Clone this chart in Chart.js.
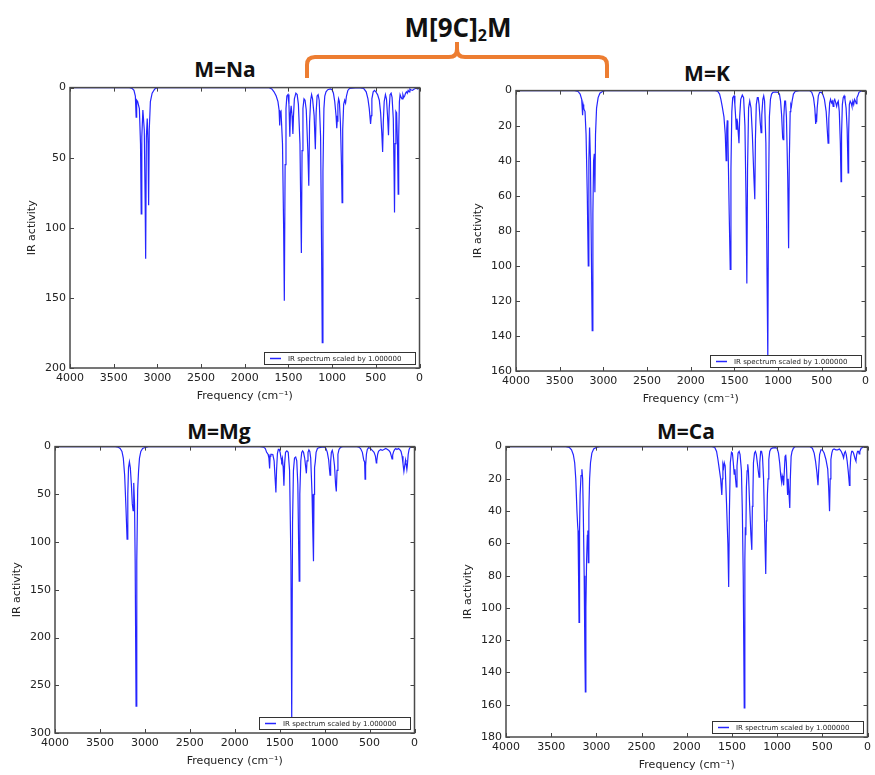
<!DOCTYPE html>
<html><head><meta charset="utf-8">
<script src="https://cdn.jsdelivr.net/npm/chart.js@4.4.1/dist/chart.umd.min.js"></script>
<style>
body{margin:0;background:#fff;width:875px;height:775px;position:relative;overflow:hidden;font-family:"Open Sans",sans-serif;}
.t{position:absolute;font-weight:700;font-size:21px;line-height:21px;color:#111;white-space:nowrap;transform:translateX(-50%);}
.main{position:absolute;font-weight:700;font-size:26px;line-height:26px;color:#111;white-space:nowrap;transform:translateX(-50%);}
.main sub{font-size:16px;vertical-align:-4px;line-height:0;}
canvas{position:absolute;}
svg{position:absolute;left:0;top:0;}
</style></head><body>
<svg width="875" height="100"><path d="M307 78 L307 65 Q307 57 315 57 L449 57 Q457 57 457 49 L457 42 M457 49 Q457 57 465 57 L599 57 Q607 57 607 65 L607 78" fill="none" stroke="#ED7D31" stroke-width="4"/></svg>
<div class="main" id="mainTitle" style="left:458px;top:14px;"></div>
<div class="t" id="t0" style="left:225px;top:59px;"></div>
<div class="t" id="t1" style="left:707px;top:63px;"></div>
<div class="t" id="t2" style="left:219px;top:421px;"></div>
<div class="t" id="t3" style="left:686px;top:421px;"></div>
<canvas id="c0" width="401" height="326" style="left:26px;top:77px;"></canvas>
<canvas id="c1" width="401" height="326" style="left:472px;top:80px;"></canvas>
<canvas id="c2" width="411" height="332" style="left:11px;top:436px;"></canvas>
<canvas id="c3" width="413" height="336" style="left:462px;top:436px;"></canvas>
<script>
// ---------------- data ----------------
const mainTitle = ['M[9C]', '2', 'M'];
const panelTitles = ['M=Na', 'M=K', 'M=Mg', 'M=Ca'];
const seriesLabel = 'IR spectrum scaled by 1.000000';
const xTitle = 'Frequency (cm\u207B\u00B9)';
const yTitle = 'IR activity';
const xTickValues = [4000, 3500, 3000, 2500, 2000, 1500, 1000, 500, 0];
const naYTicks = [0, 50, 100, 150, 200];
const kYTicks = [0, 20, 40, 60, 80, 100, 120, 140, 160];
const mgYTicks = [0, 50, 100, 150, 200, 250, 300];
const caYTicks = [0, 20, 40, 60, 80, 100, 120, 140, 160, 180];

// [frequency cm-1, IR activity]
const naSpectrum = [[4000,0],[3320,0],[3290,0.5],[3268,2],[3252,6],[3243,21],[3237,9],[3226,10],[3206,15],[3193,40],[3185,90],[3178,35],[3166,16],[3150,30],[3140,80],[3134,122],[3126,35],[3116,22],[3107,40],[3100,84],[3093,30],[3080,10],[3060,4],[3030,1],[3000,0],[1720,0],[1690,1],[1665,3],[1640,6],[1620,10],[1607,16],[1600,27],[1594,18],[1585,17],[1568,40],[1555,100],[1547,152],[1538,55],[1528,15],[1518,6],[1505,5],[1494,12],[1484,35],[1477,18],[1469,13],[1459,20],[1449,33],[1442,20],[1432,8],[1415,4],[1400,5],[1386,12],[1368,40],[1358,90],[1352,118],[1344,45],[1334,15],[1322,8],[1310,9],[1296,16],[1278,45],[1267,70],[1258,25],[1246,9],[1235,5],[1224,8],[1206,20],[1192,44],[1183,18],[1172,6],[1160,5],[1148,9],[1132,35],[1120,120],[1113,182],[1105,60],[1094,15],[1084,6],[1070,3],[1050,1.5],[1020,1],[1000,1.5],[985,4],[970,10],[955,20],[947,29],[942,24],[934,12],[926,8],[917,10],[905,25],[893,55],[886,82],[879,30],[868,12],[856,9],[846,11],[836,6],[820,2],[800,0.5],[700,0],[640,0.5],[610,3],[590,8],[575,15],[560,26],[552,20],[545,8],[530,3],[515,2],[500,3],[480,5],[460,9],[445,18],[432,32],[422,46],[414,24],[404,10],[390,5],[378,8],[366,20],[355,34],[347,15],[337,5],[325,4],[314,7],[300,22],[291,60],[286,89],[280,40],[270,17],[262,18],[252,40],[244,76],[238,35],[230,10],[222,5],[210,7],[200,8],[190,5],[180,7],[170,6],[160,4],[150,3],[140,4],[130,2],[120,3],[110,1],[100,1.5],[80,2],[60,1],[40,0.5],[20,1],[0,0]];

const kSpectrum = [[4000,0],[3330,0],[3290,0.5],[3266,2],[3248,5],[3238,14],[3232,8],[3225,10],[3218,11],[3210,12],[3198,25],[3184,60],[3173,100],[3166,40],[3158,21],[3148,40],[3136,100],[3128,137],[3120,70],[3112,40],[3104,36],[3097,58],[3090,25],[3078,10],[3060,4],[3040,1.5],[3010,0.5],[2980,0],[1720,0],[1690,0.5],[1670,2],[1655,5],[1640,9],[1620,15],[1605,25],[1595,40],[1588,22],[1582,17],[1575,25],[1560,70],[1548,102],[1540,45],[1530,12],[1520,4],[1505,3],[1495,8],[1485,16],[1479,22],[1472,16],[1465,18],[1455,25],[1448,30],[1440,15],[1428,5],[1410,2.5],[1395,4],[1380,20],[1368,60],[1358,110],[1350,45],[1338,10],[1325,6],[1310,10],[1295,25],[1277,50],[1267,62],[1260,28],[1250,8],[1238,4],[1228,4],[1218,8],[1205,18],[1195,24],[1187,14],[1175,5],[1165,3],[1155,6],[1140,30],[1126,110],[1118,153],[1110,60],[1100,15],[1088,5],[1075,2],[1060,1],[1030,0.8],[1000,1],[985,2],[972,6],[960,14],[948,27],[942,28],[935,15],[925,6],[915,6],[905,15],[890,50],[880,90],[872,40],[862,12],[855,8],[848,9],[840,6],[825,2],[805,0.5],[760,0],[640,0],[615,1],[595,4],[580,10],[570,19],[565,16],[560,18],[553,10],[540,3],[525,1],[505,1],[490,2],[470,5],[450,12],[438,22],[428,30],[420,16],[410,7],[400,5],[390,7],[380,6],[370,9],[362,6],[352,5],[340,7],[330,9],[322,7],[312,6],[300,12],[288,30],[280,52],[274,25],[265,8],[255,4],[245,3],[235,5],[222,10],[210,22],[199,47],[193,25],[185,8],[175,6],[165,7],[155,9],[145,6],[135,8],[125,5],[115,6],[105,7.5],[98,4],[88,3],[75,1],[60,0.5],[40,0],[0,0]];

const mgSpectrum = [[4000,0],[3330,0],[3300,0.5],[3275,2],[3255,5],[3240,12],[3225,30],[3210,65],[3198,97],[3190,50],[3182,22],[3172,16],[3162,22],[3150,40],[3140,60],[3131,67],[3126,40],[3122,38],[3115,60],[3108,120],[3098,272],[3090,120],[3080,45],[3070,25],[3060,12],[3045,5],[3025,2],[3000,1],[2960,0],[1720,0],[1680,0.5],[1660,2],[1645,6],[1630,8],[1620,12],[1612,23],[1606,10],[1598,8],[1585,8],[1575,9],[1562,15],[1550,35],[1542,48],[1535,25],[1525,7],[1515,3],[1505,3],[1495,6],[1485,12],[1478,15],[1470,12],[1462,20],[1453,41],[1445,18],[1435,6],[1420,4.5],[1405,6],[1390,25],[1375,120],[1366,288],[1357,80],[1347,25],[1335,12],[1322,11],[1310,15],[1298,40],[1288,110],[1283,141],[1276,50],[1265,15],[1255,6],[1245,4.5],[1235,6],[1222,12],[1210,22],[1203,28],[1196,15],[1185,6],[1175,3.5],[1165,5],[1155,12],[1140,50],[1130,95],[1124,120],[1118,50],[1112,22],[1104,16],[1095,6],[1080,2],[1060,1],[1030,0.5],[1000,0.5],[985,2],[970,6],[955,14],[945,25],[940,30],[933,16],[925,6],[915,4],[905,8],[890,20],[878,40],[870,47],[862,25],[852,8],[840,3],[825,1],[800,0],[640,0],[620,0.5],[600,2],[580,6],[565,14],[555,16],[550,34],[544,20],[535,8],[525,3],[510,1],[490,2],[470,4],[450,6],[435,10],[425,17],[420,15],[410,8],[400,5],[390,4],[375,3],[360,4],[340,3],[320,2],[300,3],[285,4],[270,6],[258,10],[250,13],[243,9],[232,5],[220,3],[208,2],[195,3],[180,2],[165,3],[150,5],[138,10],[128,18],[118,26],[112,22],[100,14],[95,17],[85,24],[80,20],[70,8],[60,3],[50,1],[35,0],[0,0]];

const caSpectrum = [[4000,0],[3340,0],[3300,0.5],[3275,2],[3255,5],[3240,10],[3228,20],[3215,40],[3207,49],[3203,52],[3197,80],[3192,109],[3186,52],[3180,30],[3170,18],[3160,14],[3152,20],[3145,40],[3135,80],[3127,130],[3122,152],[3116,100],[3108,70],[3100,55],[3094,52],[3089,72],[3083,40],[3075,20],[3065,10],[3050,4],[3030,1.5],[3000,0.5],[2960,0],[1720,0],[1690,0.5],[1670,3],[1655,8],[1640,14],[1625,20],[1612,30],[1606,20],[1600,11],[1592,13],[1585,10],[1575,12],[1560,35],[1545,60],[1536,87],[1528,40],[1518,10],[1505,3.5],[1495,4],[1485,10],[1475,17],[1467,14],[1460,20],[1452,25],[1444,12],[1432,4],[1420,3],[1410,5],[1395,15],[1385,40],[1375,80],[1364,162],[1357,70],[1352,50],[1346,55],[1340,25],[1332,15],[1325,11],[1318,15],[1305,35],[1290,55],[1280,64],[1274,37],[1268,30],[1262,10],[1250,4],[1240,3],[1230,5],[1215,12],[1200,19],[1192,10],[1182,3],[1172,3],[1162,6],[1150,20],[1140,45],[1126,79],[1118,46],[1113,44],[1108,30],[1100,20],[1092,8],[1082,3],[1070,1.5],[1050,0.8],[1020,0.6],[1000,1],[985,4],[972,10],[960,18],[950,22],[944,18],[935,20],[928,24],[920,15],[912,6],[905,5],[898,10],[890,22],[884,30],[878,20],[872,20],[865,33],[860,38],[854,20],[845,6],[835,3],[820,1],[800,0],[640,0],[610,1],[590,4],[575,9],[560,16],[548,24],[540,14],[530,5],[515,2],[500,2],[480,4],[460,8],[440,14],[430,25],[420,40],[413,20],[405,8],[395,4],[385,2],[370,1.5],[350,2],[330,2],[310,1.5],[290,3],[275,5],[265,7],[255,4],[245,3],[235,5],[225,9],[212,16],[200,24],[194,15],[185,6],[175,3],[165,3],[155,4],[145,6],[135,8],[128,9],[120,5],[110,3],[100,3],[92,4.5],[85,3],[70,1],[55,0.5],[40,0],[0,0]];

// ---------------- titles ----------------
document.getElementById('mainTitle').innerHTML = mainTitle[0] + '<sub>' + mainTitle[1] + '</sub>' + mainTitle[2];
panelTitles.forEach((t, i) => document.getElementById('t' + i).textContent = t);

// ---------------- chart setup ----------------
const LINE = '#2525ff';
const tickFont = { family: '"DejaVu Sans"', size: 11 };

const framePlugin = {
  id: 'mplFrame',
  afterDatasetsDraw(chart) {
    const { ctx, chartArea: a, scales: { x, y } } = chart;
    ctx.save();
    // inward ticks on all four sides
    ctx.strokeStyle = '#444';
    ctx.lineWidth = 1;
    ctx.beginPath();
    x.ticks.forEach(t => {
      const px = Math.round(x.getPixelForValue(t.value)) + 0.5;
      ctx.moveTo(px, a.bottom); ctx.lineTo(px, a.bottom - 4);
      ctx.moveTo(px, a.top); ctx.lineTo(px, a.top + 4);
    });
    y.ticks.forEach(t => {
      const py = Math.round(y.getPixelForValue(t.value)) + 0.5;
      ctx.moveTo(a.left, py); ctx.lineTo(a.left + 4, py);
      ctx.moveTo(a.right, py); ctx.lineTo(a.right - 4, py);
    });
    ctx.stroke();
    // legend box (bottom right, inside axes)
    const label = chart.data.datasets[0].label;
    const w = 151, h = 12;
    const lx = Math.round(a.right - 5 - w), ly = Math.round(a.bottom - 4 - h);
    ctx.fillStyle = '#fff';
    ctx.fillRect(lx, ly, w, h);
    ctx.strokeStyle = '#333';
    ctx.lineWidth = 1;
    ctx.strokeRect(lx + 0.5, ly + 0.5, w, h);
    ctx.strokeStyle = LINE;
    ctx.lineWidth = 1.5;
    ctx.beginPath();
    ctx.moveTo(lx + 6, ly + h / 2 + 0.5);
    ctx.lineTo(lx + 17, ly + h / 2 + 0.5);
    ctx.stroke();
    ctx.fillStyle = '#222';
    ctx.font = '7px "DejaVu Sans"';
    ctx.textBaseline = 'middle';
    ctx.fillText(label, lx + 24, ly + h / 2 + 1);
    // frame
    ctx.strokeStyle = '#4a4a4a';
    ctx.lineWidth = 1.5;
    ctx.strokeRect(a.left, a.top, a.right - a.left, a.bottom - a.top);
    ctx.restore();
  }
};

const plainLabel = v => String(v);

function makeChart(id, spectrum, yTicks, padRight) {
  const yMax = yTicks[yTicks.length - 1];
  return new Chart(document.getElementById(id), {
    type: 'line',
    data: {
      datasets: [{
        label: seriesLabel,
        data: spectrum.map(p => ({ x: p[0], y: p[1] })),
        borderColor: LINE,
        borderWidth: 1.2,
        pointRadius: 0,
        tension: 0,
        fill: false
      }]
    },
    options: {
      responsive: false,
      animation: false,
      events: [],
      layout: { padding: { top: 8, right: padRight, left: 0, bottom: 0 } },
      plugins: { legend: { display: false }, tooltip: { enabled: false }, title: { display: false } },
      scales: {
        x: {
          type: 'linear', min: 0, max: 4000, reverse: true,
          afterBuildTicks: s => { s.ticks = xTickValues.map(v => ({ value: v })); },
          afterFit: s => { s.height = 35; },
          grid: { display: false, drawTicks: false },
          border: { display: false },
          ticks: { font: tickFont, color: '#222', padding: 4, maxRotation: 0, autoSkip: false, callback: plainLabel },
          title: { display: true, text: xTitle, font: tickFont, color: '#222', padding: { top: 0, bottom: 0 } }
        },
        y: {
          type: 'linear', min: 0, max: yMax, reverse: true,
          afterBuildTicks: s => { s.ticks = yTicks.map(v => ({ value: v })); },
          afterFit: s => { s.width = 44; },
          grid: { display: false, drawTicks: false },
          border: { display: false },
          ticks: { font: tickFont, color: '#222', padding: 4, autoSkip: false, callback: plainLabel },
          title: { display: true, text: yTitle, font: tickFont, color: '#222', padding: { top: 0, bottom: 0 } }
        }
      }
    },
    plugins: [framePlugin]
  });
}

makeChart('c0', naSpectrum, naYTicks, 6);
makeChart('c1', kSpectrum, kYTicks, 6);
makeChart('c2', mgSpectrum, mgYTicks, 6);
makeChart('c3', caSpectrum, caYTicks, 4);
</script>
</body></html>
